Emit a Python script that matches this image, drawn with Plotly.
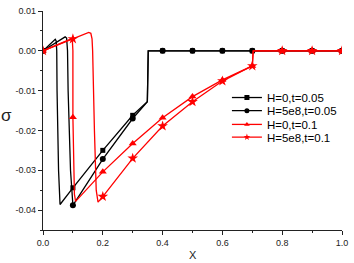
import plotly.graph_objects as go

# ---- data ----
# H=0, t=0.05 (black squares)
x_sq = [0.0, 0.041, 0.044, 0.046, 0.047, 0.049, 0.052, 0.057, 0.1, 0.2, 0.3, 0.349, 0.352, 0.4, 0.5, 0.6, 0.7, 0.8, 0.9, 1.0]
y_sq = [0.0, 0.0029, 0.0025, 0.0, -0.01, -0.02, -0.03, -0.0386, -0.0344, -0.0250, -0.0162, -0.0128, 0.0, 0.0, 0.0, 0.0, 0.0, 0.0, 0.0, 0.0]
xm_sq = [0.0, 0.1, 0.2, 0.3, 0.4, 0.5, 0.6, 0.7, 0.8, 0.9, 1.0]
ym_sq = [0.0, -0.0344, -0.0250, -0.0162, 0.0, 0.0, 0.0, 0.0, 0.0, 0.0, 0.0]

# H=5e8, t=0.05 (black circles)
x_ci = [0.0, 0.074, 0.079, 0.082, 0.084, 0.087, 0.092, 0.1, 0.2, 0.3, 0.349, 0.352, 0.4, 0.5, 0.6, 0.7, 0.8, 0.9, 1.0]
y_ci = [0.0, 0.0035, 0.0032, 0.0, -0.01, -0.02, -0.03, -0.0388, -0.0272, -0.0170, -0.0128, 0.0, 0.0, 0.0, 0.0, 0.0, 0.0, 0.0, 0.0]
xm_ci = [0.0, 0.1, 0.2, 0.3, 0.4, 0.5, 0.6, 0.7, 0.8, 0.9, 1.0]
ym_ci = [0.0, -0.0388, -0.0272, -0.0170, 0.0, 0.0, 0.0, 0.0, 0.0, 0.0, 0.0]

# H=0, t=0.1 (red triangles)
x_tr = [0.0, 0.095, 0.098, 0.1, 0.1, 0.102, 0.105, 0.109, 0.2, 0.3, 0.4, 0.5, 0.6, 0.7, 0.703, 0.8, 0.9, 1.0]
y_tr = [0.0, 0.0030, 0.0028, 0.0, -0.0167, -0.03, -0.036, -0.0378, -0.0304, -0.0233, -0.0168, -0.0115, -0.0073, -0.0038, 0.0, 0.0, 0.0, 0.0]
xm_tr = [0.0, 0.1, 0.2, 0.3, 0.4, 0.5, 0.6, 0.7, 0.8, 0.9, 1.0]
ym_tr = [0.0, -0.0167, -0.0304, -0.0233, -0.0168, -0.0115, -0.0073, -0.0038, 0.0, 0.0, 0.0]

# H=5e8, t=0.1 (red stars)
x_st = [0.0, 0.153, 0.160, 0.164, 0.166, 0.168, 0.172, 0.176, 0.178, 0.184, 0.2, 0.3, 0.4, 0.5, 0.6, 0.7, 0.703, 0.8, 0.9, 1.0]
y_st = [0.0, 0.0046, 0.0044, 0.0030, 0.0, -0.01, -0.02, -0.03, -0.035, -0.0380, -0.0366, -0.0270, -0.0189, -0.0128, -0.0076, -0.0038, 0.0, 0.0, 0.0, 0.0]
xm_st = [0.0, 0.1, 0.2, 0.3, 0.4, 0.5, 0.6, 0.7, 0.8, 0.9, 1.0]
ym_st = [0.0, 0.0030, -0.0366, -0.0270, -0.0189, -0.0128, -0.0076, -0.0038, 0.0, 0.0, 0.0]

names = ["H=0,t=0.05", "H=5e8,t=0.05", "H=0,t=0.1", "H=5e8,t=0.1"]

x_tickvals = [0.0, 0.2, 0.4, 0.6, 0.8, 1.0]
x_ticktext = ["0.0", "0.2", "0.4", "0.6", "0.8", "1.0"]
y_tickvals = [0.01, 0.0, -0.01, -0.02, -0.03, -0.04]
y_ticktext = ["0.01", "0.00", "-0.01", "-0.02", "-0.03", "-0.04"]

series = [
    (x_sq, y_sq, xm_sq, ym_sq, "black", "square", 5),
    (x_ci, y_ci, xm_ci, ym_ci, "black", "circle", 6),
    (x_tr, y_tr, xm_tr, ym_tr, "#ff0000", "triangle-up", 7),
    (x_st, y_st, xm_st, ym_st, "#ff0000", "star", 8),
]

fig = go.Figure()
legend_ids = ["legend", "legend2", "legend3", "legend4"]
for i, (xl, yl, xm, ym, col, sym, ms) in enumerate(series):
    fig.add_trace(go.Scatter(x=xl, y=yl, mode="lines", line=dict(color=col, width=1.3),
                             showlegend=False, hoverinfo="skip"))
    fig.add_trace(go.Scatter(x=xm, y=ym, mode="markers",
                             marker=dict(color=col, symbol=sym, size=ms, line=dict(width=0)),
                             showlegend=False))
    fig.add_trace(go.Scatter(x=[None], y=[None], mode="lines+markers", name=names[i],
                             line=dict(color=col, width=1.3),
                             marker=dict(color=col, symbol=sym, size=5, line=dict(width=0)),
                             legend=legend_ids[i], showlegend=True))

L, R, T, B = 43, 7, 6, 33
W, H = 354, 263
pw, ph = W - L - R, H - T - B

def px2x(px):
    return (px - L) / pw

def px2y(py):
    return (H - B - py) / ph

legend_rows = [94.5, 108.0, 122.0, 135.0]
leg_common = dict(xanchor="left", yanchor="middle", bgcolor="rgba(0,0,0,0)",
                  borderwidth=0, font=dict(family="Liberation Sans, Arial", size=11.5, color="black"),
                  itemwidth=30)
layout_legends = {}
for lid, row in zip(legend_ids, legend_rows):
    layout_legends[lid] = dict(x=px2x(230), y=px2y(row), **leg_common)

fig.update_layout(
    width=W, height=H,
    margin=dict(l=L, r=R, t=T, b=B),
    paper_bgcolor="white", plot_bgcolor="white",
    font=dict(family="Liberation Sans, Arial", color="black"),
    xaxis=dict(range=[0, 1], showgrid=False, zeroline=False, showline=True,
               linecolor="#222", linewidth=1.2, ticks="outside", ticklen=4, tickwidth=1,
               tickcolor="#222", tickvals=x_tickvals, ticktext=x_ticktext,
               tickfont=dict(size=9, color="#222"),
               minor=dict(ticks="outside", ticklen=2, tickwidth=1, tickcolor="#222", dtick=0.1)),
    yaxis=dict(range=[-0.045, 0.01], showgrid=False, zeroline=False, showline=True,
               linecolor="#222", linewidth=1.2, ticks="outside", ticklen=4, tickwidth=1,
               tickcolor="#222", tickvals=y_tickvals, ticktext=y_ticktext,
               tickfont=dict(size=9, color="#222"),
               minor=dict(ticks="outside", ticklen=2, tickwidth=1, tickcolor="#222", dtick=0.005)),
    annotations=[
        dict(text="σ", xref="paper", yref="paper", x=px2x(5.5), y=px2y(113),
             showarrow=False, font=dict(size=17, color="#222"), xanchor="center", yanchor="middle"),
        dict(text="X", xref="paper", yref="paper", x=px2x(195), y=px2y(256),
             showarrow=False, font=dict(size=11, color="#222"), xanchor="center", yanchor="middle"),
    ],
    **layout_legends,
)

fig.write_html("out.html", config={"displayModeBar": False},
               post_script="document.body.style.margin='0';document.body.style.overflow='hidden';")
